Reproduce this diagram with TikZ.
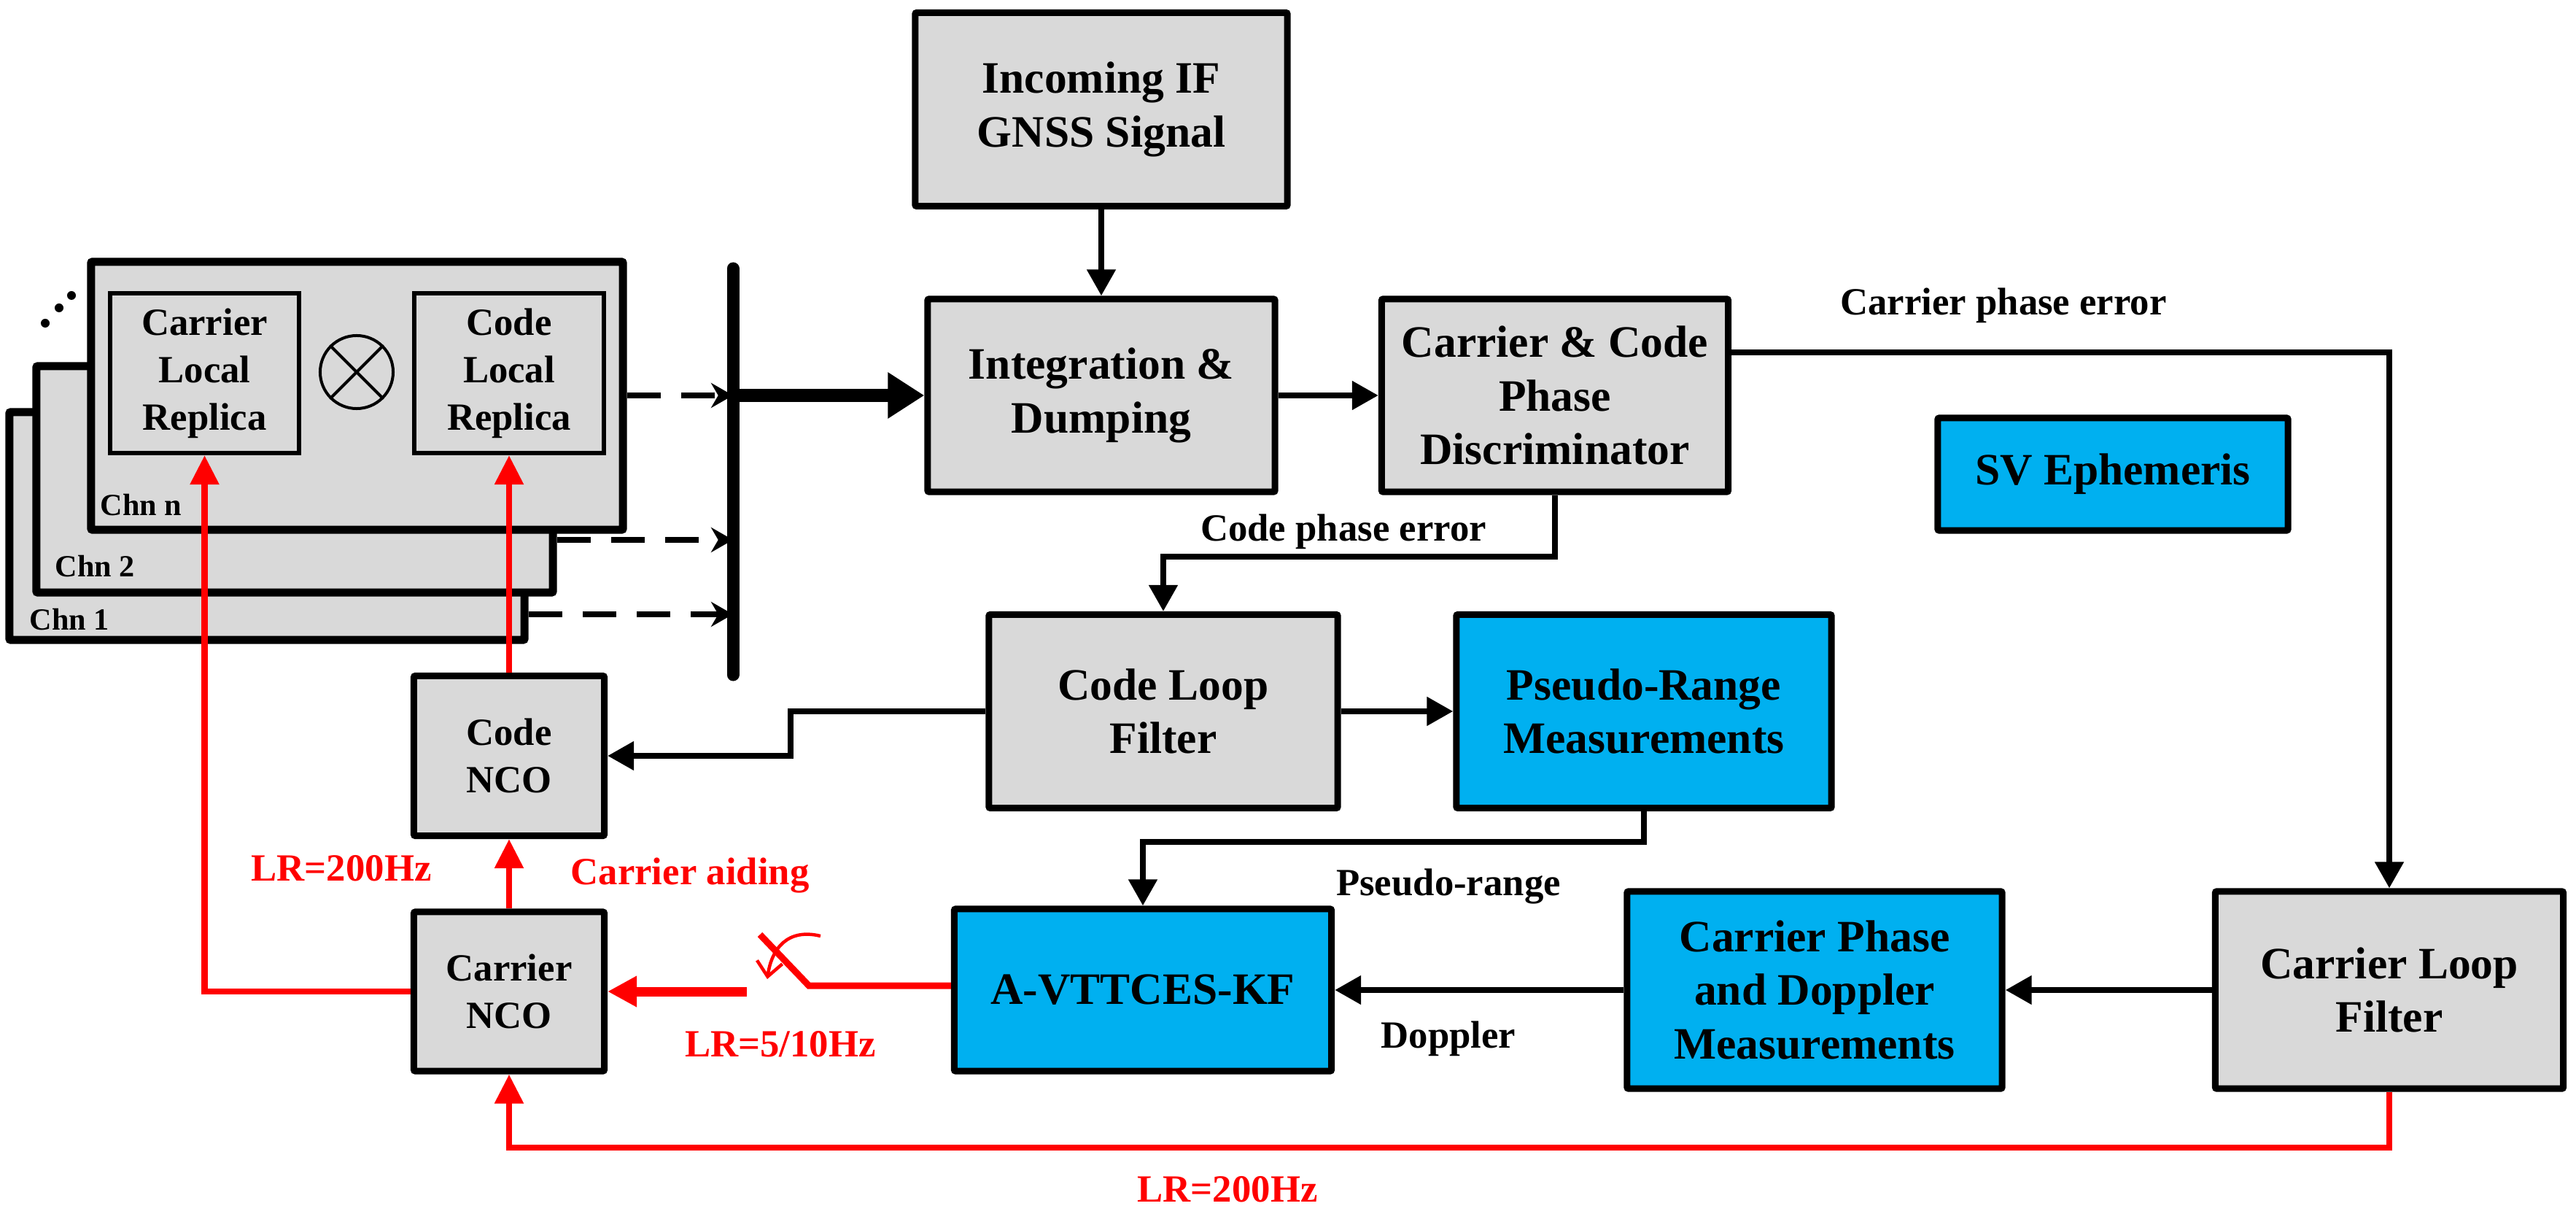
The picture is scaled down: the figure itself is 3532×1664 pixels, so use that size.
\documentclass[tikz,border=0pt]{standalone}
\usepackage{fontspec}
\setmainfont{Liberation Serif}
\usetikzlibrary{arrows.meta}
\definecolor{boxgray}{HTML}{D9D9D9}
\definecolor{boxblue}{HTML}{00B0F0}
\definecolor{lred}{HTML}{FF0000}
\newcommand\boxfont{\fontsize{17.5}{21}\selectfont\bfseries}
\newcommand\inrfont{\fontsize{15}{18.5}\selectfont\bfseries}
\newcommand\lblfont{\fontsize{15}{18}\selectfont\bfseries}
\newcommand\chnfont{\fontsize{12}{14}\selectfont\bfseries}
\begin{document}
\begin{tikzpicture}[x=0.01cm,y=-0.01cm,
  gbox/.style={draw, line width=0.09cm, fill=boxgray, align=center, inner sep=0pt, font=\boxfont, rounded corners=0.02cm},
  bbox/.style={gbox, fill=boxblue},
  chbox/.style={draw, line width=0.11cm, fill=boxgray, inner sep=0pt, rounded corners=0.02cm},
  inbox/.style={draw, line width=0.06cm, fill=boxgray, align=center, inner sep=0pt, font=\inrfont},
  arr/.style={line width=0.08cm, -{Triangle[length=0.36cm,width=0.38cm]}},
  dasharr/.style={line width=0.07cm, dash pattern=on 0.46cm off 0.28cm, -{Stealth[length=0.3cm,width=0.34cm]}},
  thickarr/.style={line width=0.18cm, -{Triangle[length=0.5cm,width=0.6cm]}},
  redarr/.style={draw=lred, line width=0.085cm, -{Triangle[length=0.4cm,width=0.38cm]}},
  redline/.style={draw=lred, line width=0.09cm},
  redthick/.style={draw=lred, line width=0.13cm, -{Triangle[length=0.4cm,width=0.4cm]}},
  lbl/.style={font=\lblfont, inner sep=0pt},
  rlbl/.style={font=\lblfont, text=lred, inner sep=0pt},
  chl/.style={font=\chnfont, inner sep=0pt, anchor=west}
]
\useasboundingbox (0,0) rectangle (3532,1664);

% channel stack
\node[chbox, minimum width=7.06cm, minimum height=3.12cm] (chn1) at (366,721) {};
\node[chl] (l1) at (40,849) {Chn 1};
\node[chbox, minimum width=7.08cm, minimum height=3.10cm] (chn2) at (404,657) {};
\node[chl] (l2) at (75,776) {Chn 2};
\node[chbox, minimum width=7.29cm, minimum height=3.67cm] (chnn) at (489.5,542.5) {};
\node[chl] (ln) at (137,692) {Chn n};
\node[inbox, minimum width=2.59cm, minimum height=2.19cm] (carrep) at (280.5,511.5) {Carrier\\Local\\Replica};
\node[inbox, minimum width=2.60cm, minimum height=2.19cm] (coderep) at (698,511.5) {Code\\Local\\Replica};
\node[draw, circle, line width=0.04cm, minimum size=1.0cm, inner sep=0pt] (mix) at (489,510) {};
\draw[line width=0.04cm] (mix.north west) -- (mix.south east) (mix.north east) -- (mix.south west);
\fill (62,443) circle (0.06cm) (81,422) circle (0.06cm) (98,405) circle (0.06cm);

% bar
\coordinate (barT) at (1005,368);
\coordinate (barB) at (1005,925);
\coordinate (b1) at (1005,542);
\coordinate (b2) at (1005,740);
\coordinate (b3) at (1005,842);

% main boxes
\node[gbox, minimum width=5.10cm, minimum height=2.65cm] (inc) at (1510,150) {Incoming IF\\GNSS Signal};
\node[gbox, minimum width=4.76cm, minimum height=2.64cm] (integ) at (1510,542) {Integration \&\\Dumping};
\node[gbox, minimum width=4.75cm, minimum height=2.64cm] (disc) at (2132,542) {Carrier \& Code\\Phase\\Discriminator};
\node[bbox, minimum width=4.80cm, minimum height=1.54cm] (sv) at (2897,650) {SV Ephemeris};
\node[gbox, minimum width=4.78cm, minimum height=2.65cm] (clf) at (1595,975) {Code Loop\\Filter};
\node[bbox, minimum width=5.14cm, minimum height=2.65cm] (prm) at (2254,975) {Pseudo-Range\\Measurements};
\node[bbox, minimum width=5.17cm, minimum height=2.22cm] (kf) at (1567,1357) {A-VTTCES-KF};
\node[bbox, minimum width=5.14cm, minimum height=2.70cm] (cpdm) at (2488,1357) {Carrier Phase\\and Doppler\\Measurements};
\node[gbox, minimum width=4.77cm, minimum height=2.70cm] (carlf) at (3276,1357) {Carrier Loop\\Filter};
\node[gbox, minimum width=2.61cm, minimum height=2.19cm, font=\inrfont] (codenco) at (698,1036) {Code\\NCO};
\node[gbox, minimum width=2.61cm, minimum height=2.18cm, font=\inrfont] (carnco) at (698,1359) {Carrier\\NCO};

% dashed arrows and bar
\draw[dasharr] (chnn.east |- b1) -- (b1);
\draw[dasharr] (chn2.east |- b2) -- (b2);
\draw[dasharr] (chn1.east |- b3) -- (b3);
\draw[line width=0.17cm, line cap=round] (barT) -- (barB);
\draw[thickarr] (b1) -- (integ.west);

% black connectors
\coordinate (c1) at (0,483);
\coordinate (c2) at (0,763);
\coordinate (c3) at (0,1154);
\coordinate (j1) at (1084,0);
\draw[arr] (inc) -- (integ);
\draw[arr] (integ) -- (disc);
\draw[arr] (disc.east |- c1) -| (carlf.north);
\draw[arr] (disc.south) |- (clf.north |- c2) -- (clf.north);
\draw[arr] (clf.west) -- (clf.west -| j1) |- (codenco.east);
\draw[arr] (clf) -- (prm);
\draw[arr] (prm.south) |- (kf.north |- c3) -- (kf.north);
\draw[arr] (carlf) -- (cpdm);
\draw[arr] (cpdm) -- (kf);

% red connectors
\coordinate (rb) at (0,1573);
\coordinate (sw1) at (1109,1351);
\coordinate (sw2) at (1042,1281);
\coordinate (sw3) at (1024,1359);
\draw[redarr] (carnco.west) -| (carrep.south);
\draw[redarr] (codenco.north) -- (coderep.south);
\draw[redarr] (carnco.north) -- (codenco.south);
\draw[redarr] (carlf.south) -- (carlf.south |- rb) -| (carnco.south);
\draw[redline] (kf.west |- sw1) -- (sw1) -- (sw2);
\draw[redthick] (sw3) -- (carnco.east);
\draw[draw=lred, line width=0.045cm, -{Straight Barb[length=0.2cm,width=0.35cm]}] (1125,1283) .. controls (1080,1272) and (1058,1300) .. (1052,1342);

% labels
\node[lbl] (t1) at (2747,419) {Carrier phase error};
\node[lbl] (t2) at (1842,729) {Code phase error};
\node[lbl] (t3) at (1986,1215) {Pseudo-range};
\node[lbl] (t4) at (1986,1424) {Doppler};
\node[rlbl] (r1) at (468,1190) {LR=200Hz};
\node[rlbl] (r2) at (946,1200) {Carrier aiding};
\node[rlbl] (r3) at (1070,1431) {LR=5/10Hz};
\node[rlbl] (r4) at (1683,1630) {LR=200Hz};
\end{tikzpicture}
\end{document}
